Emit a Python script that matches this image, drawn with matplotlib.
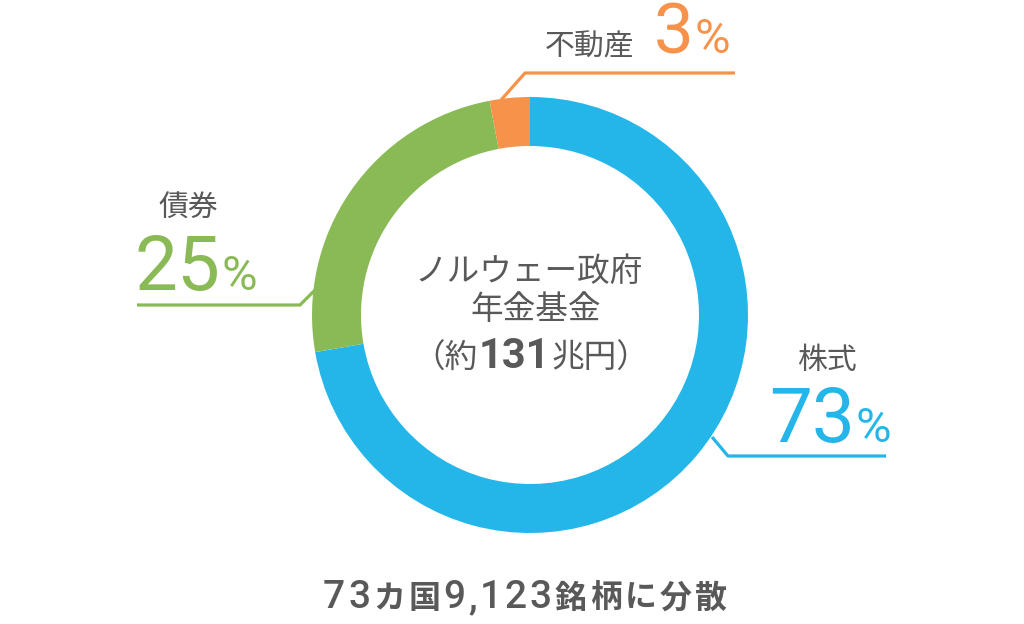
import matplotlib
matplotlib.use("Agg")
import matplotlib.pyplot as plt

plt.rcParams['font.family'] = ['Roboto', 'Noto Sans CJK JP', 'DejaVu Sans']

# data
labels = ['株式', '債券', '不動産']
shares = [73, 25, 3]
colors = ['#25b6e9', '#8aba56', '#f7924a']
center_lines = ['ノルウェー政府', '年金基金']
center_amount = ['（約', '131', '兆円）']
footer = ['73', 'カ国', '9,123', '銘柄に分散']

GRAY = '#595959'
W, H = 1024, 624

fig = plt.figure(figsize=(W / 100, H / 100), dpi=100)
ax = fig.add_axes([0, 0, 1, 1])

ax.pie(shares, colors=colors, startangle=90, counterclock=False,
       center=(530, H - 315), radius=218,
       wedgeprops=dict(width=49, edgecolor='none'))
ax.set_xlim(0, W)
ax.set_ylim(0, H)
ax.set_aspect('equal')
ax.axis('off')

renderer = fig.canvas.get_renderer()


def txt(x, y, s, **kw):
    return ax.text(x, H - y, s, **kw)


def run(x, y, parts, gap=0, align='left'):
    # lay out text pieces one after another on a common baseline
    objs = []
    cur = x
    for s, kw in parts:
        t = txt(cur, y, s, ha='left', va='baseline', **kw)
        bb = t.get_window_extent(renderer)
        cur = bb.x1 + gap
        objs.append(t)
    total = cur - gap - x
    if align == 'center':
        for t in objs:
            t.set_x(t.get_position()[0] - total / 2)
    return objs


# leader lines
leaders = {
    '株式': [(712, 437), (728, 456), (886, 456)],
    '債券': [(137, 305), (300, 305), (316, 289)],
    '不動産': [(501, 100), (525, 73), (735, 73)],
}
for lab, col in zip(labels, colors):
    xs = [p[0] for p in leaders[lab]]
    ys = [H - p[1] for p in leaders[lab]]
    ax.plot(xs, ys, color=col, lw=2.3, solid_capstyle='butt')

# labels
lab_kw = dict(fontsize=21.5, color=GRAY, family=['Noto Sans CJK JP'])
big = dict(weight='normal')
txt(797, 369, labels[0], ha='left', va='baseline', **lab_kw)
run(769, 442, [(str(shares[0]), dict(fontsize=55, color=colors[0], **big)),
               ('%', dict(fontsize=35, color=colors[0], **big))], gap=1)

txt(158, 217, labels[1], ha='left', va='baseline', **lab_kw)
run(135, 290, [(str(shares[1]), dict(fontsize=55, color=colors[1], **big)),
               ('%', dict(fontsize=35, color=colors[1], **big))], gap=1)

txt(545, 55, labels[2], ha='left', va='baseline', **lab_kw)
run(654, 53, [(str(shares[2]), dict(fontsize=51, color=colors[2], **big)),
              ('%', dict(fontsize=35, color=colors[2], **big))], gap=1)

# center text
ckw = dict(fontsize=23.5, color=GRAY, family=['Noto Sans CJK JP'])
txt(529, 272, center_lines[0], ha='center', va='center', **ckw)
txt(536, 310, center_lines[1], ha='center', va='center', **ckw)
run(531, 368, [(center_amount[0], ckw),
               (center_amount[1], dict(fontsize=30, color=GRAY, weight='bold')),
               (center_amount[2], ckw)], gap=1, align='center')

# footer
fkw_num = dict(fontsize=28, color=GRAY, weight='medium')
fkw_jp = dict(fontsize=23, color=GRAY, weight='bold', family=['Noto Sans CJK JP'])
parts = []
for i, s in enumerate(footer):
    for ch in s:
        parts.append((ch, fkw_num if i % 2 == 0 else fkw_jp))
run(525, 608, parts, gap=3, align='center')

fig.savefig('out.png', dpi=100, facecolor='white')
